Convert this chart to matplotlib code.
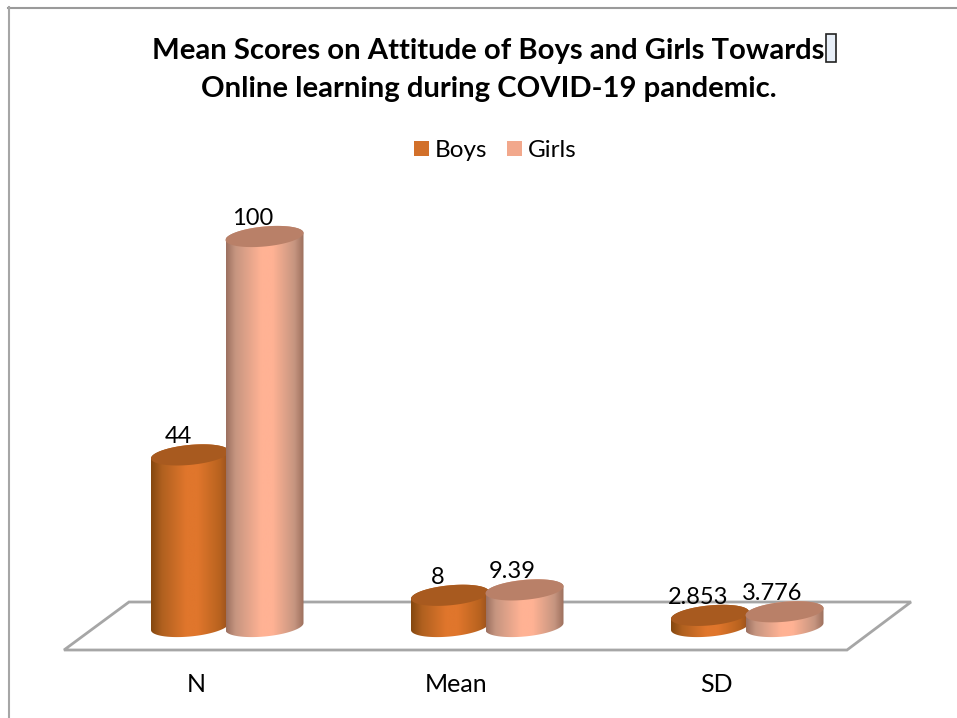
import numpy as np
import matplotlib
matplotlib.use('Agg')
import matplotlib.pyplot as plt
from matplotlib.colors import LinearSegmentedColormap
from matplotlib.lines import Line2D
from matplotlib.patches import Patch, PathPatch, Polygon, Rectangle
from matplotlib.path import Path

plt.rcParams['font.family'] = ['Lato', 'DejaVu Sans']

categories = ['N', 'Mean', 'SD']
series_names = ['Boys', 'Girls']
boys = [44, 8, 2.853]
girls = [100, 9.39, 3.776]
boys_labels = ['44', '8', '2.853']
girls_labels = ['100', '9.39', '3.776']

W, H = 957, 718
PX_PER_UNIT = 3.9
PX_PER_CAT = 260

fig = plt.figure(figsize=(W / 100, H / 100), dpi=100, facecolor='white')


def fx(px):
    return px / W


def fy(px):
    return 1 - px / H


# axes spans the floor front edge up to above the tallest bar
ax_l, ax_r, ax_t, ax_b = 40, 930, 190, 650
ax = fig.add_axes([fx(ax_l), fy(ax_b), (ax_r - ax_l) / W, (ax_b - ax_t) / H])
ax.set_xlim((ax_l - 196) / PX_PER_CAT, (ax_r - 196) / PX_PER_CAT)
ax.set_ylim((626.5 - ax_b) / PX_PER_UNIT, (626.5 - ax_t) / PX_PER_UNIT)
ax.patch.set_alpha(0)
for s in ax.spines.values():
    s.set_visible(False)
ax.set_yticks([])
ax.set_xticks(range(len(categories)))
ax.set_xticklabels(categories, fontsize=18, color='black')
ax.tick_params(axis='x', length=0, pad=16.5)

# chart frame (only top and left show) and floor
fig.add_artist(Line2D([fx(8), 1], [fy(7.5), fy(7.5)], color='#9A9A9A', lw=1.5, zorder=-2))
fig.add_artist(Line2D([fx(9), fx(9)], [fy(7), 0], color='#A6A6A6', lw=1.5, zorder=-2))
floor = [(64, 650), (847, 650), (911, 602), (129, 602)]
fig.add_artist(Polygon([(fx(x), fy(y)) for x, y in floor], closed=True, transform=fig.transFigure,
                       fc='white', ec='#A6A6A6', lw=2, zorder=-1))

BOYS_OFFSET = -6 / PX_PER_CAT
GIRLS_OFFSET = 68.5 / PX_PER_CAT
RX = 39 / PX_PER_CAT
RY = 10 / PX_PER_UNIT
TILT = 3.5 / PX_PER_UNIT


def cylinder(cx, value, stops, top_col, z):
    t = np.linspace(np.pi, 2 * np.pi, 60)
    low_x = cx + RX * np.cos(t)
    low_y = RY * np.sin(t) + TILT * np.cos(t)
    t2 = np.linspace(0, np.pi, 60)
    up_x = cx + RX * np.cos(t2)
    up_y = value + RY * np.sin(t2) + TILT * np.cos(t2)
    verts = np.column_stack([np.r_[low_x, up_x], np.r_[low_y, up_y]])
    body = PathPatch(Path(verts), fc='none', ec='none', zorder=z)
    ax.add_patch(body)
    cmap = LinearSegmentedColormap.from_list('c', stops)
    im = ax.imshow(np.linspace(0, 1, 256).reshape(1, -1), cmap=cmap, aspect='auto', zorder=z,
                   extent=[cx - RX, cx + RX, -RY - TILT, value + RY + TILT], interpolation='bilinear')
    im.set_clip_path(body)
    t3 = np.linspace(0, 2 * np.pi, 120)
    top = np.column_stack([cx + RX * np.cos(t3), value + RY * np.sin(t3) + TILT * np.cos(t3)])
    ax.add_patch(Polygon(top, closed=True, fc=top_col, ec='none', zorder=z + 0.1))


boys_stops = [(0, '#84470F'), (0.14, '#B0601F'), (0.45, '#E0762C'), (0.6, '#E0762C'), (0.88, '#B9631F'), (1, '#96501C')]
girls_stops = [(0, '#9C7060'), (0.12, '#C69580'), (0.45, '#FFB294'), (0.6, '#FFB294'), (0.88, '#C69580'),
               (1, '#9C6F5C')]

xlim, ylim = ax.get_xlim(), ax.get_ylim()
for i in range(len(categories)):
    bx = i + BOYS_OFFSET
    gx = i + GIRLS_OFFSET
    cylinder(bx, boys[i], boys_stops, '#A85A1F', 2 + i)
    cylinder(gx, girls[i], girls_stops, '#B98068', 2.5 + i)
    ax.annotate(boys_labels[i], (bx, boys[i]), xytext=(-12, 18), textcoords='offset pixels', ha='center',
                va='center', fontsize=17, color='black', zorder=10)
    ax.annotate(girls_labels[i], (gx, girls[i]), xytext=(-12, 18), textcoords='offset pixels', ha='center',
                va='center', fontsize=17, color='black', zorder=10)
ax.set_xlim(xlim)
ax.set_ylim(ylim)

# title
fig.text(fx(488.5), fy(51), 'Mean Scores on Attitude of Boys and Girls Towards',
         ha='center', va='center', fontsize=21.1, fontweight='bold', color='black')
fig.text(fx(489), fy(89), 'Online learning during COVID-19 pandemic.',
         ha='center', va='center', fontsize=21.1, fontweight='bold', color='black')
fig.add_artist(Rectangle((fx(826), fy(62)), 10 / W, 28 / H, transform=fig.transFigure, fc='#E8EFF8', ec='#222222',
                         lw=1.2))

handles = [Patch(fc='#D2702A', label=series_names[0]), Patch(fc='#F2A88C', label=series_names[1])]
fig.legend(handles=handles, loc='center', bbox_to_anchor=(fx(495), fy(150.5)), ncol=2, frameon=False, fontsize=17.5,
           handlelength=0.62, handleheight=0.62, handletextpad=0.25, columnspacing=0.8, labelcolor='black')

plt.savefig('out.png', dpi=100)
